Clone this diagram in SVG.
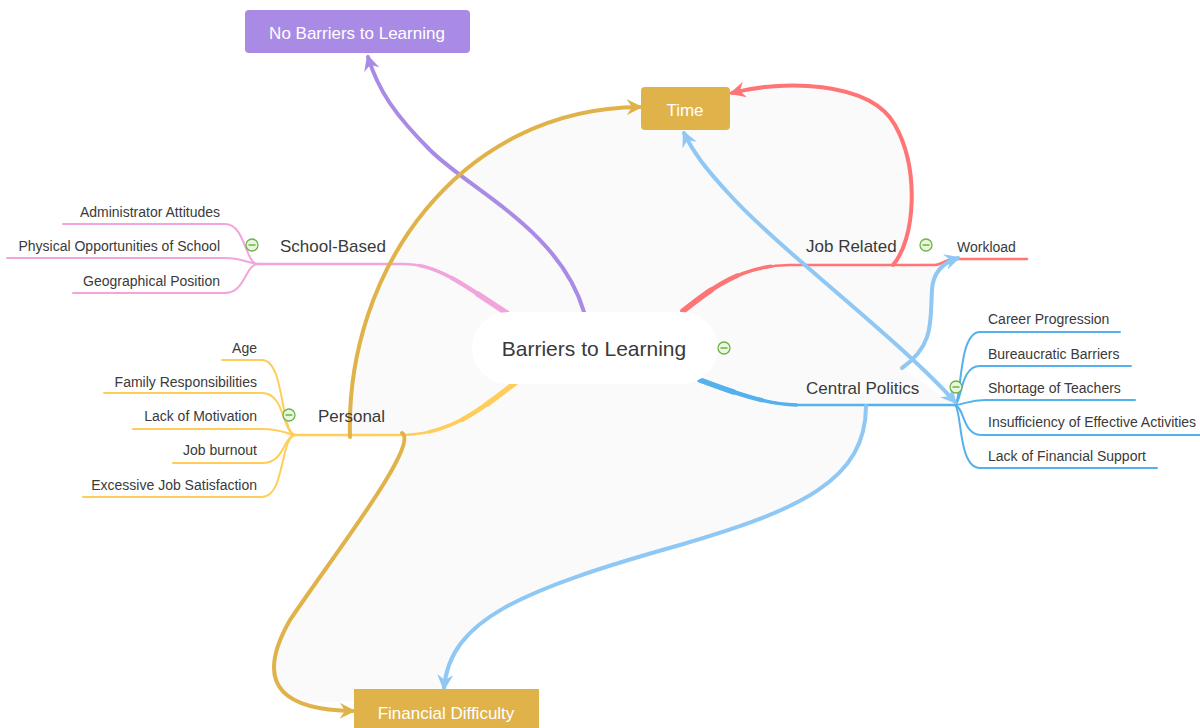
<svg xmlns="http://www.w3.org/2000/svg" width="1200" height="728" viewBox="0 0 1200 728">
<style>
text{font-family:"Liberation Sans",Arial,sans-serif;fill:#3a3a3a}
.main{font-size:17px}
.sub{font-size:14px}
.subr{font-size:14px;text-anchor:end}
.wt{fill:#ffffff;font-size:17px;text-anchor:middle}
.br{fill:none;stroke-linecap:round;stroke-linejoin:round}
.t1{stroke-width:5.5;stroke-dasharray:35 3000}
.t2{stroke-width:4.5;stroke-dasharray:65 3000}
.t3{stroke-width:3.5;stroke-dasharray:100 3000}
.rel{fill:none;stroke-width:4;stroke-linecap:round}
.col circle{fill:#eaf6dd;stroke:#6cb24a;stroke-width:1.3}
.col line{stroke:#6cb24a;stroke-width:1.5}
</style>
<defs>
<marker id="aPur" viewBox="0 0 12 12" refX="10" refY="6" markerWidth="16" markerHeight="16" markerUnits="userSpaceOnUse" orient="auto"><path d="M0,0 L12,6 L0,12 L4,6 Z" fill="#a98be6"/></marker>
<marker id="aGold" viewBox="0 0 12 12" refX="10" refY="6" markerWidth="16" markerHeight="16" markerUnits="userSpaceOnUse" orient="auto"><path d="M0,0 L12,6 L0,12 L4,6 Z" fill="#e0b24a"/></marker>
<marker id="aRed" viewBox="0 0 12 12" refX="10" refY="6" markerWidth="16" markerHeight="16" markerUnits="userSpaceOnUse" orient="auto"><path d="M0,0 L12,6 L0,12 L4,6 Z" fill="#ff7474"/></marker>
<marker id="aBlue" viewBox="0 0 12 12" refX="10" refY="6" markerWidth="16" markerHeight="16" markerUnits="userSpaceOnUse" orient="auto-start-reverse"><path d="M0,0 L12,6 L0,12 L4,6 Z" fill="#8fc8f4"/></marker>
<path id="pPink" d="M 507 313 C 470 290, 440 264, 405 264 L 255 264"/>
<path id="pYel" d="M 515 383 C 480 410, 450 435, 400 435 L 295 435"/>
<path id="pRed" d="M 683 311 C 710 290, 740 265, 790 265 L 935 265 C 942 265, 945 259, 955 259 L 1027 259"/>
<path id="pBlue" d="M 700 380 C 740 395, 770 405, 800 405 L 955 405"/>
</defs>
<rect width="1200" height="728" fill="#ffffff"/>
<path d="M 350 435 C 345 270, 460 108, 641 108 L 641 87 L 730 87 L 732 93 C 780 80, 870 80, 895 125 C 920 170, 915 240, 893 265 L 945 262 C 933 270, 933 290, 932 310 C 930 340, 925 355, 902 368 L 955 405 L 866 406 C 866 480, 800 510, 680 545 C 520 590, 450 620, 444 688 L 354 700 C 290 710, 250 690, 290 620 C 330 560, 420 445, 402 433 Z" fill="#fafafa"/>

<g id="branches">
<g stroke="#f2a5dc" class="br">
<use href="#pPink" stroke-width="2.5"/>
<use href="#pPink" class="t3"/>
<use href="#pPink" class="t2"/>
<use href="#pPink" class="t1"/>
<path d="M 257 264 C 245 262, 245 224, 225 224 L 63 224" stroke-width="2"/>
<path d="M 257 264 C 245 262, 240 258, 225 258 L 7 258" stroke-width="2"/>
<path d="M 257 264 C 245 266, 245 293, 225 293 L 73 293" stroke-width="2"/>
</g>
<g stroke="#ffcd5a" class="br">
<use href="#pYel" stroke-width="2.5"/>
<use href="#pYel" class="t3"/>
<use href="#pYel" class="t2"/>
<use href="#pYel" class="t1"/>
<path d="M 295 435 C 280 432, 285 360, 262 360 L 222 360" stroke-width="2"/>
<path d="M 295 435 C 282 432, 285 393, 262 393 L 104 393" stroke-width="2"/>
<path d="M 295 435 C 285 433, 280 429, 262 429 L 133 429" stroke-width="2"/>
<path d="M 295 435 C 282 438, 285 463, 262 463 L 173 463" stroke-width="2"/>
<path d="M 295 435 C 280 438, 285 497, 262 497 L 83 497" stroke-width="2"/>
</g>
<g stroke="#ff7474" class="br">
<use href="#pRed" stroke-width="2.5"/>
<use href="#pRed" class="t3"/>
<use href="#pRed" class="t2"/>
<use href="#pRed" class="t1"/>
</g>
<g stroke="#55b0ee" class="br">
<use href="#pBlue" stroke-width="2.5"/>
<use href="#pBlue" class="t3"/>
<use href="#pBlue" class="t2"/>
<use href="#pBlue" class="t1"/>
<path d="M 955 405 C 962 400, 958 332, 980 332 L 1120 332" stroke-width="2"/>
<path d="M 955 405 C 962 402, 960 366, 980 366 L 1131 366" stroke-width="2"/>
<path d="M 955 405 C 965 404, 970 400, 985 400 L 1135 400" stroke-width="2"/>
<path d="M 955 405 C 965 408, 962 435, 982 435 L 1200 435" stroke-width="2"/>
<path d="M 955 405 C 962 410, 958 468, 980 468 L 1157 468" stroke-width="2"/>
</g>
</g>

<g id="connectors">
<path class="rel" d="M 584 312 C 560 230, 470 190, 430 150 C 395 115, 378 90, 368 57" stroke="#a98be6" marker-end="url(#aPur)"/>
<path class="rel" d="M 350 437 C 345 270, 460 108, 640 107" stroke="#e0b24a" marker-end="url(#aGold)"/>
<path class="rel" d="M 402 433 C 420 445, 330 560, 290 620 C 250 690, 290 710, 353 711" stroke="#e0b24a" marker-end="url(#aGold)"/>
<path class="rel" d="M 893 265 C 915 240, 920 170, 895 125 C 870 80, 780 80, 732 93" stroke="#ff7474" marker-end="url(#aRed)"/>
<path class="rel" d="M 955 402 C 900 340, 780 250, 730 195 C 705 168, 693 152, 684 133" stroke="#8fc8f4" marker-start="url(#aBlue)" marker-end="url(#aBlue)"/>
<path class="rel" d="M 902 368 C 935 345, 930 320, 932 290 C 933 270, 945 262, 958 258" stroke="#8fc8f4" marker-end="url(#aBlue)"/>
<path class="rel" d="M 866 406 C 866 480, 800 510, 680 545 C 520 590, 450 620, 444 688" stroke="#8fc8f4" marker-end="url(#aBlue)"/>
</g>

<g id="central">
<rect x="472" y="312" width="246" height="72" rx="36" fill="#ffffff"/>
<text x="594" y="356" text-anchor="middle" style="font-size:21px">Barriers to Learning</text>
<g class="col"><circle cx="724" cy="348" r="6"/><line x1="720.5" y1="348" x2="727.5" y2="348"/></g>
</g>

<g id="no-barriers">
<rect x="245" y="10" width="225" height="43" rx="4" fill="#a98be6"/>
<text class="wt" x="357" y="39">No Barriers to Learning</text>
</g>
<g id="time">
<rect x="641" y="87" width="89" height="43" rx="4" fill="#e0b24a"/>
<text class="wt" x="685" y="116">Time</text>
</g>
<g id="financial">
<rect x="354" y="689" width="185" height="45" fill="#e0b24a"/>
<text class="wt" x="446" y="719">Financial Difficulty</text>
</g>

<g id="school-based">
<text class="main" x="280" y="252">School-Based</text>
<g class="col"><circle cx="252" cy="245" r="6"/><line x1="248.5" y1="245" x2="255.5" y2="245"/></g>
</g>
<g id="administrator-attitudes"><text class="subr" x="220" y="217">Administrator Attitudes</text></g>
<g id="physical-opportunities"><text class="subr" x="220" y="251">Physical Opportunities of School</text></g>
<g id="geographical-position"><text class="subr" x="220" y="286">Geographical Position</text></g>

<g id="personal">
<text class="main" x="318" y="422">Personal</text>
<g class="col"><circle cx="289" cy="415" r="6"/><line x1="285.5" y1="415" x2="292.5" y2="415"/></g>
</g>
<g id="age"><text class="subr" x="257" y="353">Age</text></g>
<g id="family-responsibilities"><text class="subr" x="257" y="387">Family Responsibilities</text></g>
<g id="lack-of-motivation"><text class="subr" x="257" y="421">Lack of Motivation</text></g>
<g id="job-burnout"><text class="subr" x="257" y="455">Job burnout</text></g>
<g id="excessive-job-satisfaction"><text class="subr" x="257" y="490">Excessive Job Satisfaction</text></g>

<g id="job-related">
<text class="main" x="806" y="252">Job Related</text>
<g class="col"><circle cx="926" cy="245" r="6"/><line x1="922.5" y1="245" x2="929.5" y2="245"/></g>
</g>
<g id="workload"><text class="sub" x="957" y="252">Workload</text></g>

<g id="central-politics">
<text class="main" x="806" y="394">Central Politics</text>
<g class="col"><circle cx="956" cy="387" r="6"/><line x1="952.5" y1="387" x2="959.5" y2="387"/></g>
</g>
<g id="career-progression"><text class="sub" x="988" y="324">Career Progression</text></g>
<g id="bureaucratic-barriers"><text class="sub" x="988" y="359">Bureaucratic Barriers</text></g>
<g id="shortage-of-teachers"><text class="sub" x="988" y="393">Shortage of Teachers</text></g>
<g id="insufficiency"><text class="sub" x="988" y="427">Insufficiency of Effective Activities</text></g>
<g id="lack-of-financial-support"><text class="sub" x="988" y="461">Lack of Financial Support</text></g>
</svg>
